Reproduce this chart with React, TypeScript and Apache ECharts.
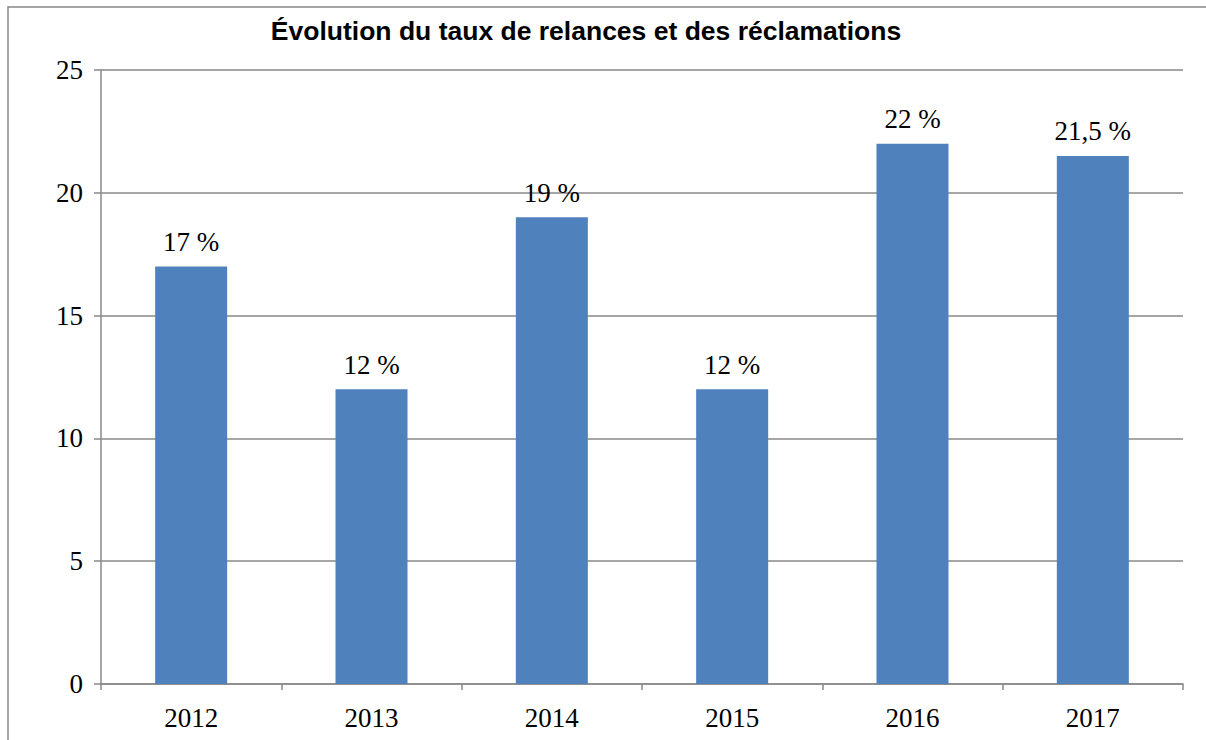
import React, { useEffect, useRef } from "react";
import * as echarts from "echarts";

const titleText = "Évolution du taux de relances et des réclamations";
const years = ["2012", "2013", "2014", "2015", "2016", "2017"];
const rates = [17, 12, 19, 12, 22, 21.5];
const rateLabels = ["17 %", "12 %", "19 %", "12 %", "22 %", "21,5 %"];

export default function App() {
  const ref = useRef<HTMLDivElement>(null);
  useEffect(() => {
    document.body.style.margin = "0";
    document.body.style.overflow = "hidden";
    const chart = echarts.init(ref.current!, null, { renderer: "svg" });
    const serif = "Liberation Serif";
    chart.setOption({
      animation: false,
      backgroundColor: "#ffffff",
      title: {
        text: titleText,
        left: 581,
        textAlign: "center",
        top: 12,
        textStyle: { fontFamily: "Liberation Sans", fontWeight: "bold", fontSize: 26.5, color: "#000" },
      },
      graphic: [
        {
          type: "polyline",
          shape: { points: [[8, 760], [8, 7], [1260, 7]] },
          style: { fill: "none", stroke: "#888888", lineWidth: 1.5 },
          silent: true,
        },
      ],
      grid: { left: 101, top: 70, right: 23, bottom: 56 },
      xAxis: {
        type: "category",
        data: years,
        axisLine: { lineStyle: { color: "#888888", width: 1.5 } },
        axisTick: { show: true, length: 6, lineStyle: { color: "#888888", width: 1.5 } },
        axisLabel: { fontFamily: serif, fontSize: 27, color: "#000", margin: 20 },
      },
      yAxis: {
        type: "value",
        min: 0,
        max: 25,
        interval: 5,
        axisLine: { show: true, lineStyle: { color: "#888888", width: 1.5 } },
        axisTick: { show: true, length: 7, lineStyle: { color: "#888888", width: 1.5 } },
        splitLine: { lineStyle: { color: "#888888", width: 1.5 } },
        axisLabel: { fontFamily: serif, fontSize: 27, color: "#000", margin: 18 },
      },
      series: [
        {
          type: "bar",
          data: rates.map((v, i) => ({ value: v, label: { formatter: rateLabels[i] } })),
          barWidth: 72,
          itemStyle: { color: "#4F81BD" },
          label: {
            show: true,
            position: "top",
            distance: 11,
            fontFamily: serif,
            fontSize: 27,
            color: "#000",
          },
        },
      ],
    });
    return () => chart.dispose();
  }, []);
  return <div ref={ref} style={{ width: 1206, height: 740 }} />;
}
